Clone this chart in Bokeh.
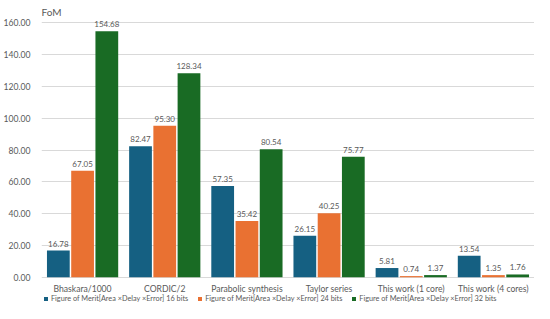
from bokeh.plotting import figure
from bokeh.models import ColumnDataSource, FactorRange, Legend, LegendItem, NumeralTickFormatter, LabelSet, Title
from bokeh.transform import dodge
from bokeh.core.properties import value
from bokeh.embed import file_html
from bokeh.resources import INLINE

categories = ["Bhaskara/1000", "CORDIC/2", "Parabolic synthesis", "Taylor series",
              "This work (1 core)", "This work (4 cores)"]
fom16 = [16.78, 82.47, 57.35, 26.15, 5.81, 13.54]
fom24 = [67.05, 95.30, 35.42, 40.25, 0.74, 1.35]
fom32 = [154.68, 128.34, 80.54, 75.77, 1.37, 1.76]
y_ticks = [0, 20, 40, 60, 80, 100, 120, 140, 160]
series_names = ["Figure of Merit[Area \u00d7Delay \u00d7Error] 16 bits",
                "Figure of Merit[Area \u00d7Delay \u00d7Error] 24 bits",
                "Figure of Merit[Area \u00d7Delay \u00d7Error] 32 bits"]
colors = ["#156082", "#E97132", "#196B24"]

FONT = "Lato"
GRAY = "#595959"

src = ColumnDataSource(dict(
    cat=categories, s16=fom16, s24=fom24, s32=fom32,
    base=[y_ticks[0]] * len(categories),
    l16=[f"{v:.2f}" for v in fom16],
    l24=[f"{v:.2f}" for v in fom24],
    l32=[f"{v:.2f}" for v in fom32],
))

p = figure(x_range=FactorRange(*categories, range_padding=0), y_range=(-16.5, 161.5),
           x_axis_location=None,
           width=534, height=303, output_backend="svg", toolbar_location=None,
           min_border_left=33, min_border_right=0, min_border_top=0, min_border_bottom=0)
p.outline_line_color = None

t = Title(text="FoM", align="left", standoff=6,
          text_font=FONT, text_font_size="10px", text_color=GRAY, text_font_style="normal")
p.add_layout(t, "above")

offsets = [-0.295, 0.0, 0.295]
keys = ["s16", "s24", "s32"]
lkeys = ["l16", "l24", "l32"]
renderers = []
for off, k, lk, c in zip(offsets, keys, lkeys, colors):
    r = p.vbar(x=dodge("cat", off, range=p.x_range), top=k, width=0.277, source=src,
               fill_color=c, line_color=None)
    renderers.append(r)
    labels = LabelSet(x=dodge("cat", off, range=p.x_range), y=k, text=lk, source=src,
                      text_align="center", text_baseline="bottom", y_offset=4,
                      text_font=value(FONT), text_font_size="8px", text_color=GRAY)
    p.add_layout(labels)

# category labels beneath the zero line (alphabetic baseline, shifted down)
cat_labels = LabelSet(x="cat", y="base", text="cat", source=src, y_offset=-15,
                      text_align="center", text_baseline="alphabetic",
                      text_font=value(FONT), text_font_size="8.6px", text_color=GRAY)
p.add_layout(cat_labels)

p.yaxis.ticker = y_ticks
p.yaxis.formatter = NumeralTickFormatter(format="0.00")
p.yaxis.axis_line_color = None
p.yaxis.major_tick_line_color = None
p.yaxis.minor_tick_line_color = None
p.yaxis.major_label_text_font = FONT
p.yaxis.major_label_text_font_size = "8.6px"
p.yaxis.major_label_text_color = GRAY
p.yaxis.major_label_standoff = 5

p.xgrid.grid_line_color = None
p.ygrid.grid_line_color = "#d9d9d9"

items = [LegendItem(label=n, renderers=[r]) for n, r in zip(series_names, renderers)]
legend = Legend(items=items, orientation="horizontal", location=(2, 0),
                label_text_font=FONT, label_text_font_size="7.3px", label_text_color=GRAY,
                glyph_width=5, glyph_height=5, label_standoff=3, spacing=9,
                padding=1, margin=0, border_line_color=None, background_fill_alpha=0,
                label_height=8)
p.add_layout(legend)

open("out.html", "w").write(file_html(p, INLINE))
